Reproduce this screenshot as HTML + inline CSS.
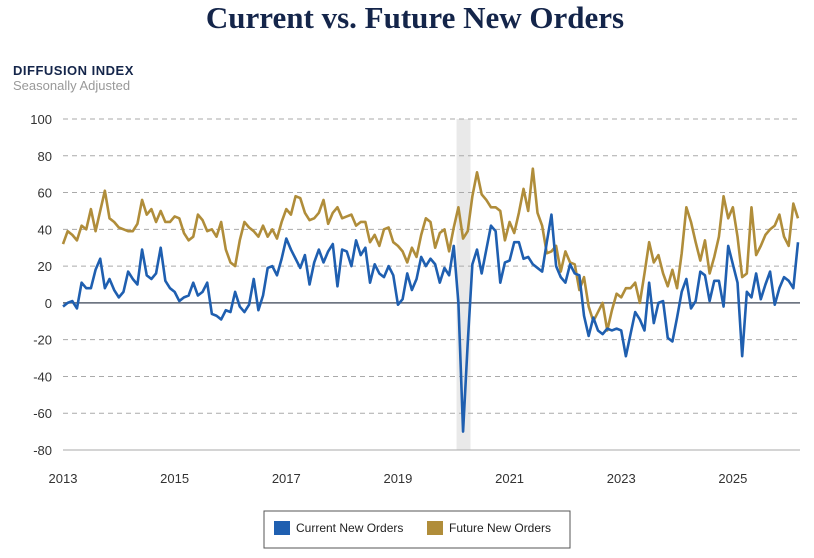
<!DOCTYPE html>
<html><head><meta charset="utf-8"><style>
body{margin:0;width:814px;height:553px;background:#fff;overflow:hidden;font-family:"Liberation Sans",sans-serif}
</style></head><body>
<svg width="814" height="553" xmlns="http://www.w3.org/2000/svg">
<text x="415" y="28" text-anchor="middle" font-family="Liberation Serif,serif" font-weight="bold" font-size="31" fill="#14254a">Current vs. Future New Orders</text>
<text x="13" y="75" font-weight="bold" font-size="13" fill="#14254a" letter-spacing="0.5">DIFFUSION INDEX</text>
<text x="13" y="90" font-size="13" fill="#999">Seasonally Adjusted</text>
<g id="grid"></g>
<g id="series"></g>
<g>
<rect x="264" y="511" width="306" height="37" fill="#fff" stroke="#555" stroke-width="1"/>
<rect x="274" y="521" width="16" height="14" fill="#1f5fb0"/>
<text x="296" y="532" font-size="12" fill="#222">Current New Orders</text>
<rect x="427" y="521" width="16" height="14" fill="#b08d3a"/>
<text x="449" y="532" font-size="12" fill="#222">Future New Orders</text>
</g>
</svg>
<script>
const yTicks=[100,80,60,40,20,0,-20,-40,-60,-80];
const xYears=[2013,2015,2017,2019,2021,2023,2025];
const currentOrders=[-2,0,1,-3,11,8,8,18,24,8,13,7,3,6,17,13,10,29,15,13,16,30,12,8,6,1,3,4,11,4,6,11,-6,-7,-9,-4,-5,6,-2,-5,-1,13,-4,4,19,20,15,24,35,29,24,19,26,
10,22,29,22,28,32,9,29,28,20,34,26,30,11,21,16,14,20,15,-1,2,16,7,13,25,20,24,21,11,19,15,31,0,-70,-22,21,29,16,29,42,39,11,22,23,33,33,24,25,21,19,17,33,
48,20,14,11,21,16,15,-7,-18,-8,-15,-17,-14,-15,-14,-15,-29,-17,-5,-9,-15,11,-11,0,1,-19,-21,-8,6,13,-3,1,17,15,1,12,12,-2,31,21,11,-29,6,3,16,2,10,17,-1,8,14,12,8,33];
const futureOrders=[32,39,37,34,42,40,51,39,50,61,46,44,41,40,39,39,43,56,48,51,44,50,44,44,47,46,38,34,36,48,45,39,40,36,44,29,22,20,34,44,41,39,36,42,36,40,35,44,51,48,58,57,49,45,
46,49,56,43,49,52,46,47,48,42,44,44,33,37,31,40,41,33,31,28,22,30,25,37,46,44,30,38,40,28,41,52,35,39,58,71,59,56,52,52,50,34,44,38,49,62,50,73,49,42,27,
28,31,17,28,22,21,7,14,-2,-10,-5,0,-15,-4,5,3,8,8,11,0,16,33,22,26,16,9,18,8,27,52,44,33,23,34,16,25,36,58,46,52,36,14,16,52,26,31,37,40,42,48,36,31,54,46];
const recession=[2020.05,2020.3];
const NS="http://www.w3.org/2000/svg";
const X0=63,X1=798,yTop=119,yBot=450;
const startYear=2013,n=currentOrders.length;
const xm=i=>X0+i*(X1-X0)/(n-1);
const xy=yr=>X0+(yr-startYear)*12*(X1-X0)/(n-1);
const yv=v=>yTop+(100-v)*(yBot-yTop)/180;
function mk(tag,attrs,parent){const e=document.createElementNS(NS,tag);for(const k in attrs)e.setAttribute(k,attrs[k]);parent.appendChild(e);return e;}
const grid=document.getElementById('grid'),ser=document.getElementById('series');
const rs=mk('rect',{x:xy(recession[0]),y:yTop,width:xy(recession[1])-xy(recession[0]),height:yBot-yTop,fill:'#e9e9e9'},grid);


yTicks.forEach(v=>{
 const l=mk('line',{x1:X0,x2:800,y1:yv(v),y2:yv(v),stroke:v===0?'#5a6270':'#aaa','stroke-width':v===0?1.5:1,'stroke-dasharray':(v===0||v===-80)?'':'5,4'},grid);
 
 
 const t=mk('text',{x:52,y:yv(v)+5,'text-anchor':'end','font-size':13,fill:'#333'},grid);
 t.textContent=v;
 
 
});
xYears.forEach(yr=>{
 const t=mk('text',{x:xy(yr),y:483,'text-anchor':'middle','font-size':13,fill:'#333'},grid);
 t.textContent=yr;
 
 
});
function line(data,color,name){
 const p=mk('polyline',{points:data.map((v,i)=>xm(i)+','+yv(v)).join(' '),fill:'none',stroke:color,'stroke-width':2.6,'stroke-linejoin':'round'},ser);
 
 
}
line(futureOrders,'#b08d3a','future-new-orders-line');
line(currentOrders,'#1f5fb0','current-new-orders-line');
</script>
</body></html>
